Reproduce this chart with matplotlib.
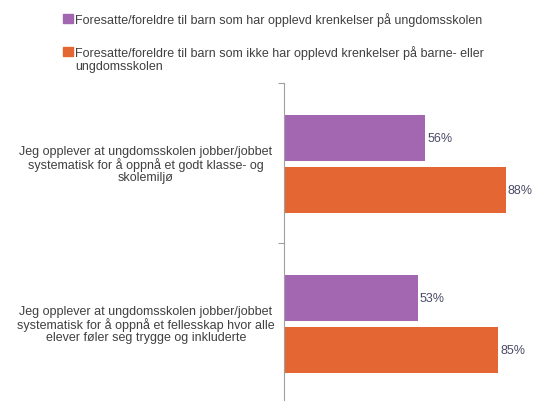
import matplotlib
matplotlib.use("Agg")
import matplotlib.pyplot as plt
import matplotlib.transforms as mtransforms
from matplotlib.patches import Rectangle
import numpy as np

plt.rcParams['font.family'] = ['Liberation Sans', 'DejaVu Sans']

categories = [
    "Jeg opplever at ungdomsskolen jobber/jobbet\nsystematisk for å oppnå et godt klasse- og\nskolemiljø",
    "Jeg opplever at ungdomsskolen jobber/jobbet\nsystematisk for å oppnå et fellesskap hvor alle\nelever føler seg trygge og inkluderte",
]
series_names = [
    "Foresatte/foreldre til barn som har opplevd krenkelser på ungdomsskolen",
    "Foresatte/foreldre til barn som ikke har opplevd krenkelser på barne- eller\nungdomsskolen",
]
krenket = [56, 53]
ikke_krenket = [88, 85]

colors = ['#A367B2', '#E46633']
text_col = '#404040'
value_col = '#4B4B66'

W, H = 534, 402
fig = plt.figure(figsize=(W / 100, H / 100), dpi=100)
ax = fig.add_axes([284 / W, 0, 1 - 284 / W, 318 / H])

y = np.arange(len(categories))
h = 0.2875
off = 0.1625
b1 = ax.barh(y - off, krenket, height=h, color=colors[0])
b2 = ax.barh(y + off, ikke_krenket, height=h, color=colors[1])

for bars, vals in ((b1, krenket), (b2, ikke_krenket)):
    for rect, v in zip(bars, vals):
        ax.text(v + 0.8, rect.get_y() + rect.get_height() / 2, f"{v}%",
                va='center', ha='left', fontsize=9, color=value_col)

ax.set_xlim(0, 99.2)
ax.set_ylim(1.48, -0.506)
ax.set_xticks([])
ax.set_yticks([-0.506, 0.494])
ax.set_yticklabels([])
ax.tick_params(axis='y', length=4, color='#A0A0A0')
for s in ('top', 'right', 'bottom'):
    ax.spines[s].set_visible(False)
ax.spines['left'].set_color('#A0A0A0')

# category labels, centred left of the axis
tr = mtransforms.blended_transform_factory(fig.transFigure, ax.transData)
for yi, lab in zip(y, categories):
    ax.text(146 / W, yi, lab, transform=tr, ha='center', va='center',
            multialignment='center', fontsize=9, color=text_col,
            linespacing=0.98)

# legend drawn by hand so the marker sits on the first line
legend_rows = [19, 52]
for ly, name, c in zip(legend_rows, series_names, colors):
    fig.patches.append(Rectangle((63 / W, 1 - (ly + 5) / H), 9.5 / W, 9.5 / H,
                                 transform=fig.transFigure, color=c))
    fig.text(75 / W, 1 - (ly - 6) / H, name, ha='left', va='top',
             fontsize=9, color=text_col, linespacing=1.08)

fig.savefig("out.png", dpi=100)
